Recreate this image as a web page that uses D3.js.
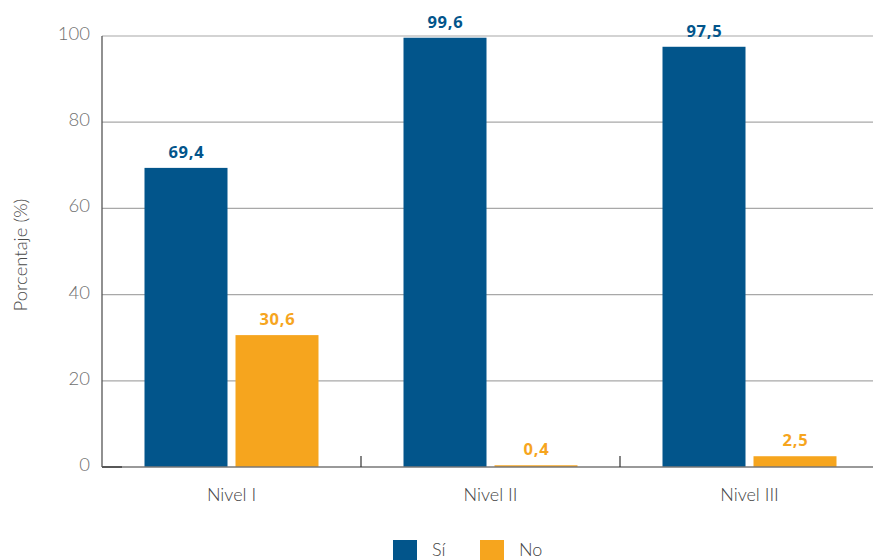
<!DOCTYPE html>
<html><head><meta charset="utf-8">
<script src="https://cdn.jsdelivr.net/npm/d3@7"></script>
<style>body{margin:0;background:#fff}svg{display:block}</style>
</head><body>
<svg id="c" width="873" height="560"></svg>
<script>
const categories = ["Nivel I", "Nivel II", "Nivel III"];
const seriesNames = ["Sí", "No"];
const si = [69.4, 99.6, 97.5];
const no = [30.6, 0.4, 2.5];
const yTicks = [0, 20, 40, 60, 80, 100];
const colors = ["#02558B", "#F6A51E"];

const svg = d3.select("#c");
const font = "Lato, 'Open Sans', sans-serif";
const boldFont = "'Open Sans', Lato, sans-serif";
const x = d3.scaleBand().domain(categories).range([102, 879]).paddingInner(0).paddingOuter(0);
const y = d3.scaleLinear().domain([0, 100]).range([467, 36]);

// gridlines
svg.append("g").selectAll("line").data(yTicks.filter(d => d > 0)).join("line")
  .attr("x1", 102).attr("x2", 873)
  .attr("y1", d => y(d)).attr("y2", d => y(d))
  .attr("stroke", "#a8a8a8").attr("stroke-width", 1.2);

// y tick labels
svg.append("g").selectAll("text").data(yTicks).join("text")
  .attr("x", 90).attr("y", d => y(d) + 4)
  .attr("text-anchor", "end").attr("font-family", font).attr("font-weight", 300)
  .attr("font-size", 18.5).attr("fill", "#707070").text(d => d);

// y title
svg.append("text").attr("transform", "translate(27,255) rotate(-90)")
  .attr("text-anchor", "middle").attr("font-family", font).attr("font-weight", 300)
  .attr("font-size", 18.5).attr("fill", "#4a4a4a").text("Porcentaje (%)");

// bars
const data = categories.map((c, i) => ({c, vals: [si[i], no[i]]}));
const barW = 83, gap = 8;
const g = svg.append("g");
data.forEach(d => {
  const center = x(d.c) + x.bandwidth() / 2;
  d.vals.forEach((v, j) => {
    const bx = j === 0 ? center - gap / 2 - barW : center + gap / 2;
    g.append("rect").attr("x", bx).attr("width", barW)
      .attr("y", y(v)).attr("height", y(0) - y(v)).attr("fill", colors[j]);
    g.append("text").attr("x", bx + barW / 2 + 0.5).attr("y", y(v) - 10)
      .attr("text-anchor", "middle").attr("font-family", boldFont).attr("font-weight", 700)
      .attr("font-size", 16.5).attr("letter-spacing", 0.8).attr("fill", colors[j])
      .text(d3.format(".1f")(v).replace(".", ","));
  });
});

// axes lines
svg.append("line").attr("x1", 102).attr("x2", 873).attr("y1", 467).attr("y2", 467)
  .attr("stroke", "#777").attr("stroke-width", 1.3);
svg.append("line").attr("x1", 102).attr("x2", 122).attr("y1", 467).attr("y2", 467)
  .attr("stroke", "#333").attr("stroke-width", 1.3);
svg.append("line").attr("x1", 102).attr("x2", 102).attr("y1", 36).attr("y2", 467)
  .attr("stroke", "#555").attr("stroke-width", 1.3);
// category separators
svg.append("g").selectAll("line").data(categories.slice(1)).join("line")
  .attr("x1", d => x(d)).attr("x2", d => x(d)).attr("y1", 456).attr("y2", 467)
  .attr("stroke", "#333").attr("stroke-width", 1.2);
// x labels
svg.append("g").selectAll("text").data(categories).join("text")
  .attr("x", d => x(d) + x.bandwidth() / 2).attr("y", 501)
  .attr("text-anchor", "middle").attr("font-family", font).attr("font-weight", 300)
  .attr("font-size", 18).attr("fill", "#444").text(d => d);

// legend
const lg = svg.append("g");
const legX = [393, 480];
seriesNames.forEach((s, i) => {
  lg.append("rect").attr("x", legX[i]).attr("y", 540).attr("width", 24).attr("height", 22).attr("fill", colors[i]);
  lg.append("text").attr("x", legX[i] + 39).attr("y", 556).attr("font-family", font).attr("font-weight", 300)
    .attr("font-size", 18).attr("fill", "#444").text(s);
});
</script>
</body></html>
